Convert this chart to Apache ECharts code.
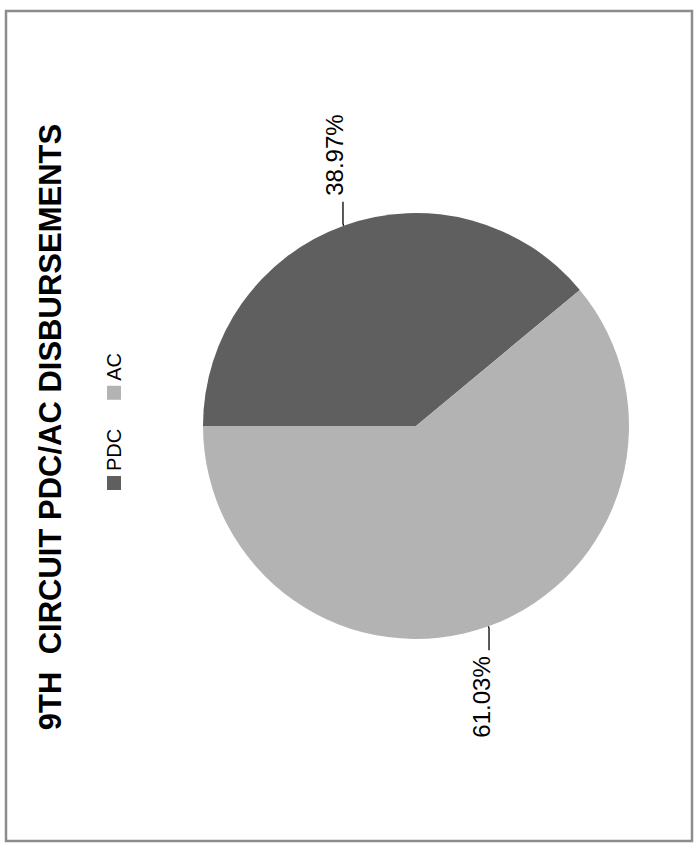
<!DOCTYPE html>
<html>
<head>
<meta charset="utf-8">
<script src="https://cdn.jsdelivr.net/npm/echarts@6/dist/echarts.min.js"></script>
<style>
  html, body { margin: 0; padding: 0; background: #fff; overflow: hidden; }
  body { width: 697px; height: 843px; position: relative; }
  #chart { position: absolute; width: 843px; height: 697px; left: -73px; top: 73px; transform: rotate(-90deg); transform-origin: 50% 50%; }
</style>
</head>
<body>
<div id="chart"></div>
<script>
const titleText = '9TH  CIRCUIT PDC/AC DISBURSEMENTS';
const categories = ['PDC', 'AC'];
const percentValues = [38.97, 61.03];
const sliceColors = ['#5f5f5f', '#b3b3b3'];

const chart = echarts.init(document.getElementById('chart'), null, { renderer: 'svg', width: 843, height: 697 });
const FONT = '"Liberation Sans", Arial, sans-serif';
chart.setOption({
  animation: false,
  backgroundColor: '#ffffff',
  color: sliceColors,
  graphic: [{
    type: 'rect', silent: true,
    shape: { x: 2, y: 6, width: 830, height: 686 },
    style: { fill: 'none', stroke: '#8c8c8c', lineWidth: 2.5 }
  }],
  title: {
    text: titleText,
    left: 411, top: 30, textAlign: 'center',
    textStyle: { fontFamily: FONT, fontSize: 31, fontWeight: 'bold', color: '#000' }
  },
  legend: {
    data: categories,
    left: 'center', top: 99,
    itemWidth: 14, itemHeight: 14, itemGap: 29,
    icon: 'rect',
    textStyle: { fontFamily: FONT, fontSize: 20, color: '#000' }
  },
  series: [{
    type: 'pie',
    center: [417, 416],
    radius: 213,
    startAngle: 90,
    clockwise: true,
    emphasis: { disabled: true },
    itemStyle: { borderWidth: 0 },
    label: {
      show: true, position: 'outside',
      formatter: p => '{v|' + p.value.toFixed(2) + '%}\n{s| }',
      rich: {
        v: { fontFamily: FONT, fontSize: 24, color: '#000', lineHeight: 26 },
        s: { fontSize: 10, lineHeight: 16, height: 16 }
      },
      distanceToLabelLine: 6
    },
    labelLine: { show: true, length: 2, length2: 22, lineStyle: { color: '#000', width: 1.3 } },
    data: categories.map((c, i) => ({ name: c, value: percentValues[i] }))
  }]
});
</script>
</body>
</html>
